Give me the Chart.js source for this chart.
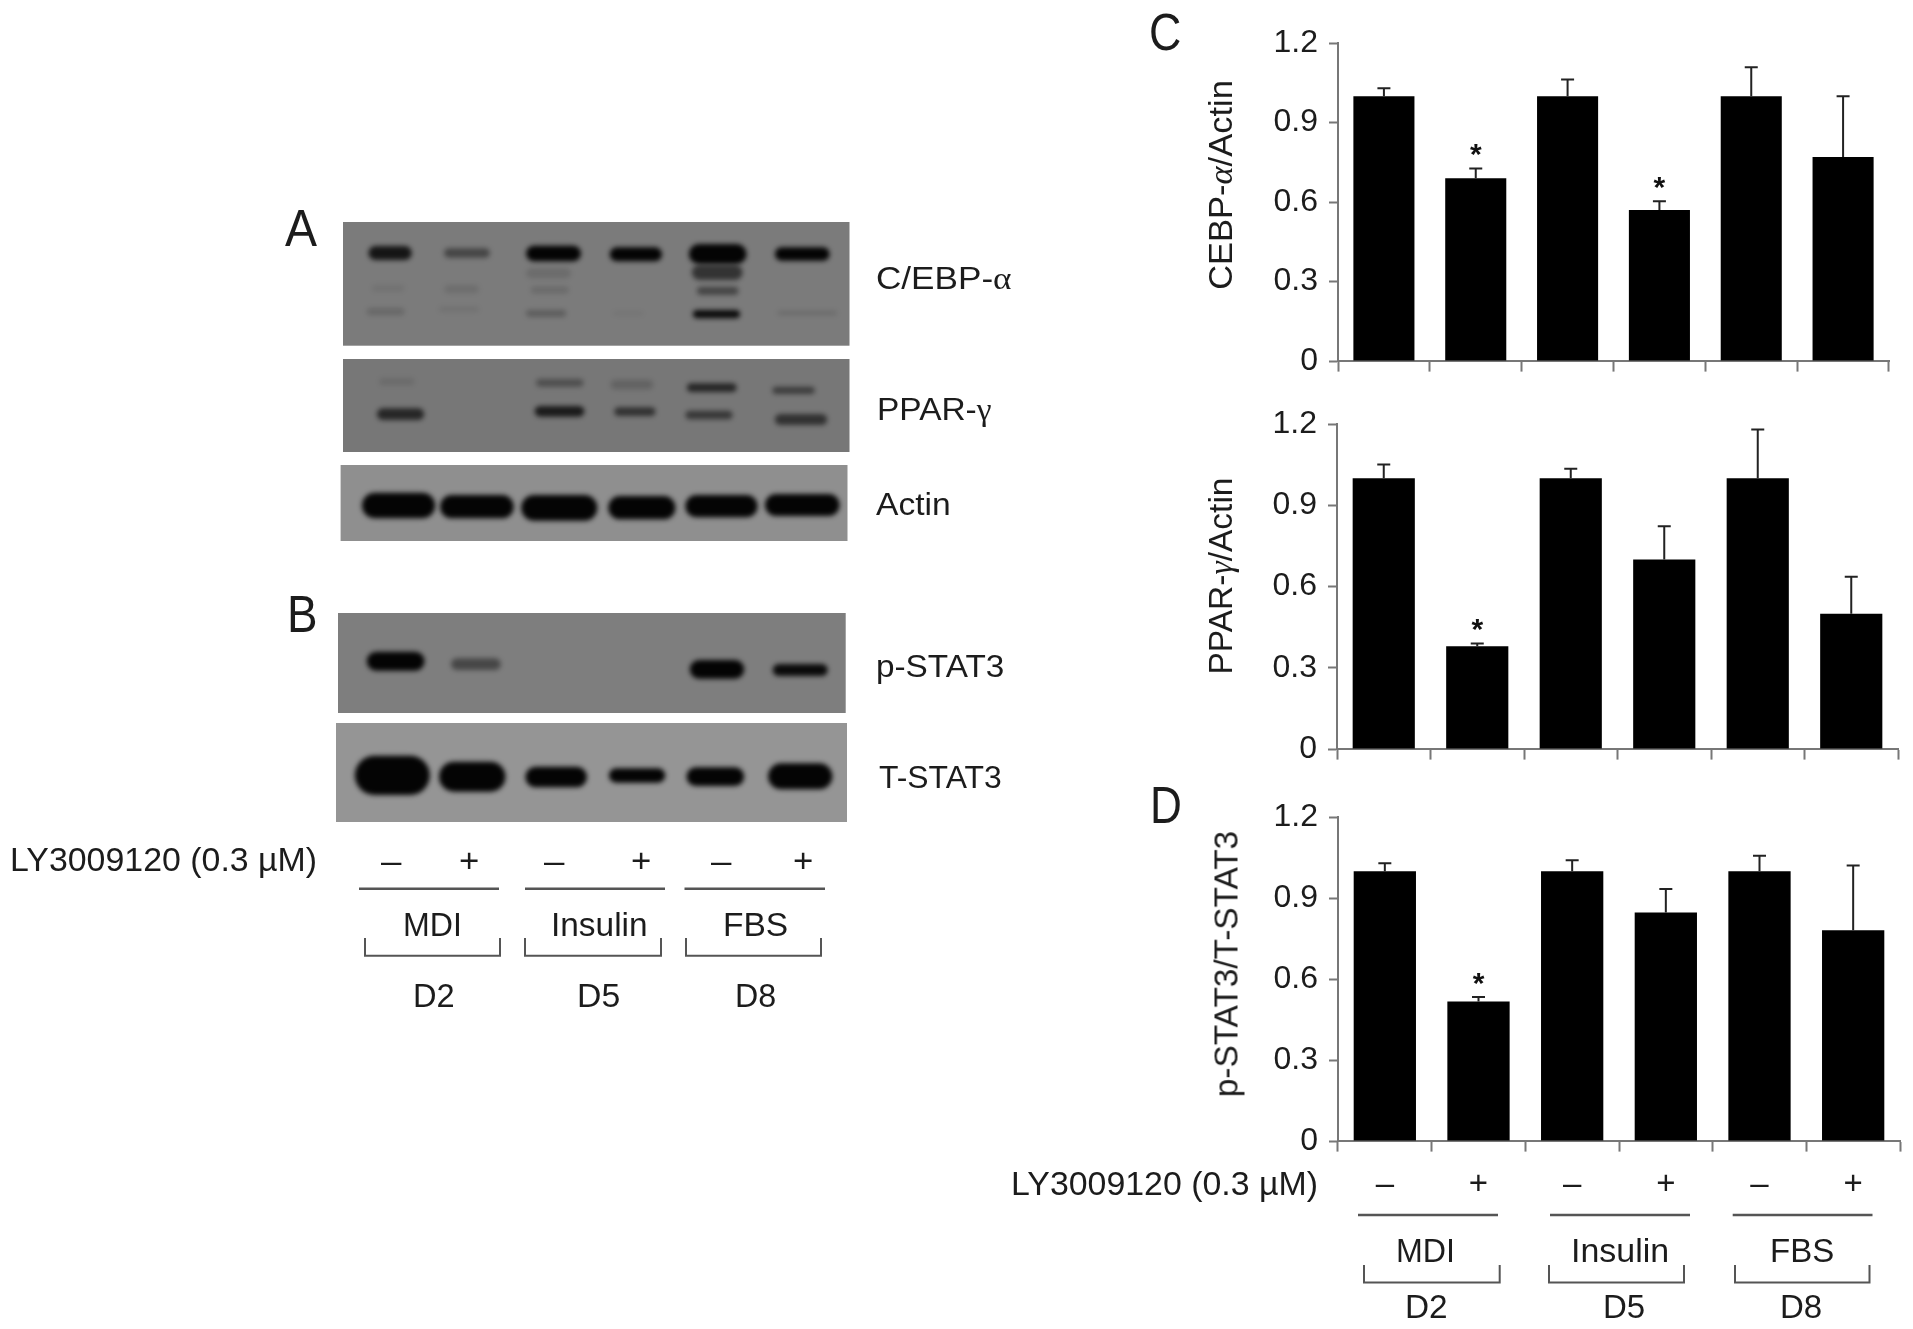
<!DOCTYPE html>
<html><head><meta charset="utf-8">
<script src="https://cdn.jsdelivr.net/npm/chart.js@4"></script>
<style>
html,body{margin:0;padding:0;background:#fff;overflow:hidden}
#stage{position:relative;width:1913px;height:1329px;overflow:hidden;background:#fff}
canvas{position:absolute}
.t{position:absolute;white-space:nowrap;line-height:1;font-family:"Liberation Sans",Arial,sans-serif;color:#1c1c1c}
</style></head><body>
<div id="stage"><canvas id="bg" width="1913" height="1329" style="left:0;top:0"></canvas>
<canvas id="c1"></canvas><canvas id="c2"></canvas><canvas id="c3"></canvas></div>
<script>
// ---- data ----
const treatments = ['–','+','–','+','–','+'];
const cebpValues = [1.0,0.69,1.0,0.57,1.0,0.77];
const cebpErrorTops = [1.03,0.727,1.063,0.603,1.109,1.0];
const cebpStars = [0,1,0,1,0,0];
const pparValues = [1.0,0.38,1.0,0.70,1.0,0.50];
const pparErrorTops = [1.051,0.39,1.035,0.823,1.18,0.636];
const pparStars = [0,1,0,0,0,0];
const stat3Values = [1.0,0.517,1.0,0.847,1.0,0.781];
const stat3ErrorTops = [1.029,0.534,1.04,0.934,1.057,1.021];
const stat3Stars = [0,1,0,0,0,0];
const yTicks = [0,0.3,0.6,0.9,1.2];

// ---- blot bands: [x0,x1,y0,y1,darkness] in crop units ----
const cebpBands=[[218,305,168,210,.85],[370,462,175,203,.45],[535,645,167,214,1],[703,808,172,214,1],[862,978,162,222,1],[1035,1145,172,212,1],[868,970,225,270,.6],[878,962,290,315,.45],[870,965,360,385,.95],[535,625,235,265,.12],[545,620,290,310,.15],[535,615,360,380,.25],[215,290,355,375,.17],[370,440,285,310,.1],[360,440,350,365,.08],[710,770,365,375,.07],[1040,1160,362,376,.12],[225,290,285,305,.07]];
const pparBands=[[240,310,565,585,.1],[235,330,655,690,.7],[555,650,567,590,.35],[552,652,648,680,.8],[705,790,570,598,.18],[712,795,652,678,.6],[858,958,580,606,.7],[855,950,662,688,.55],[1030,1115,590,612,.5],[1035,1140,672,705,.6]];
const actinBands=[[205,352,908,985,1],[362,510,915,985,1],[525,678,915,992,1],[700,835,918,988,1],[855,1000,915,982,1],[1015,1165,912,978,1]];
const pstatBands=[[553,640,215,272,1],[680,755,235,270,.45],[1040,1122,240,296,1],[1165,1248,252,288,.95]];
const tstatBands=[[535,648,527,645,1],[662,762,545,635,1],[792,885,560,622,1],[918,1003,565,608,1],[1035,1122,562,618,1],[1158,1255,550,628,1]];

// ---- background: blots, lines, brackets ----
const bg=document.getElementById('bg').getContext('2d');
function panel(x0,y0,x1,y1,gray,bands,sx,ox,oy){
  bg.save();
  bg.fillStyle=gray;bg.fillRect(x0,y0,x1-x0,y1-y0);
  bg.beginPath();bg.rect(x0,y0,x1-x0,y1-y0);bg.clip();
  bg.filter='blur(2.5px)';
  bands.forEach(b=>{
    const X0=ox+b[0]/sx,X1=ox+b[1]/sx,Y0=oy+b[2]/3,Y1=oy+b[3]/3;
    bg.fillStyle='rgba(4,4,4,'+b[4]+')';
    bg.beginPath();bg.roundRect(X0,Y0,X1-X0,Y1-Y0,Math.min(Y1-Y0,X1-X0)/2);bg.fill();
  });
  bg.restore();
}
panel(343,222,849.5,345.7,'#7b7b7b',cebpBands,2.01,260,190);
panel(343,359,849.5,452,'#777777',pparBands,2.01,260,190);
panel(340.6,465,847.5,541,'#8f8f8f',actinBands,2.01,260,190);
panel(338,613,845.7,713,'#7e7e7e',pstatBands,1.5077,0,580);
panel(336,723,847,822,'#959595',tstatBands,1.5077,0,580);
bg.strokeStyle='#555';
function hline(a,b,y){bg.lineWidth=2.5;bg.beginPath();bg.moveTo(a,y);bg.lineTo(b,y);bg.stroke();}
function bracket(a,b,t,e){bg.lineWidth=2;bg.beginPath();bg.moveTo(a,t);bg.lineTo(a,e);bg.lineTo(b,e);bg.lineTo(b,t);bg.stroke();}
hline(359,499,888.7);hline(525,665,888.7);hline(684.5,825,888.7);
bracket(365,500,938,955.7);bracket(525,661,938,955.7);bracket(686,821,938,955.7);
hline(1358,1498,1215);hline(1550,1690,1215);hline(1732.7,1872.5,1215);
bracket(1364,1499.7,1265,1282.5);bracket(1549,1684,1265,1282.5);bracket(1735,1869.5,1265,1282.5);

// ---- text ----
const stage=document.getElementById('stage');
function label(html,x0,x1,cy,size){
  const s=document.createElement('span');s.className='t';s.innerHTML=html;s.style.fontSize=size+'px';
  stage.appendChild(s);
  const k=(x1-x0)/s.offsetWidth;
  s.style.left=x0+'px';s.style.top=(cy-s.offsetHeight/2)+'px';
  s.style.transformOrigin='left center';s.style.transform='scaleX('+k+')';
}
function vlabel(html,cx,y0,y1,size){
  const s=document.createElement('span');s.className='t';s.innerHTML=html;s.style.fontSize=size+'px';
  stage.appendChild(s);
  const k=(y1-y0)/s.offsetWidth;
  s.style.left=cx+'px';s.style.top=((y0+y1)/2)+'px';
  s.style.transform='translate(-50%,-50%) rotate(-90deg) scaleX('+k+')';
}
const SM='<span style="font-family:\'Liberation Serif\'">';
label('A',285,317,228,51);label('B',286.5,317,614,51);label('C',1149,1181.5,32,51);label('D',1150,1182,805,51);
label('C/EBP-'+SM+'α</span>',876,1011,278,32);
label('PPAR-'+SM+'γ</span>',877,992,409,32);
label('Actin',876,950.6,504,32);
label('p-STAT3',875.5,1003.5,666,32);
label('T-STAT3',879,1001.5,776.7,32);
label('LY3009120 (0.3 µM)',10,317,859,33);
[[391,'–'],[469,'+'],[554,'–'],[641,'+'],[721,'–'],[802.5,'+']].forEach(p=>label(p[1],p[0]-10,p[0]+10,860,33));
label('MDI',402.6,462,924,33);label('Insulin',550.5,646.7,924,33);label('FBS',723,788,924,33);
label('D2',412.5,454,995,33);label('D5',577,620,995,33);label('D8',735,776,995,33);
label('LY3009120 (0.3 µM)',1010.5,1317.4,1183.5,33);
label('MDI',1396,1455.5,1250,33);label('Insulin',1570.8,1668.6,1250,33);label('FBS',1770,1834,1250,33);
label('D2',1404.8,1447.3,1306,33);label('D5',1603,1645,1306,33);label('D8',1780,1822,1306,33);
vlabel('CEBP-<i style="font-family:\'Liberation Serif\'">α</i>/Actin',1221,80,290,33);
vlabel('PPAR-<i style="font-family:\'Liberation Serif\'">γ</i>/Actin',1221,477,674,33);
vlabel('p-STAT3/T-STAT3',1226,831,1097,33);

// ---- charts ----
const errorBars={id:'errorBars',afterDatasetsDraw(chart){
  const ctx=chart.ctx,y=chart.scales.y,meta=chart.getDatasetMeta(0),o=chart.options.plugins.errorBars;
  ctx.save();ctx.strokeStyle='#222';ctx.fillStyle='#111';ctx.lineWidth=2;
  meta.data.forEach((bar,i)=>{
    const top=y.getPixelForValue(o.tops[i]);
    ctx.beginPath();ctx.moveTo(bar.x,bar.y);ctx.lineTo(bar.x,top);ctx.moveTo(bar.x-6.5,top);ctx.lineTo(bar.x+6.5,top);ctx.stroke();
    if(o.stars[i]){
      ctx.font='bold 30px "Liberation Sans"';ctx.textAlign='center';ctx.textBaseline='alphabetic';
      ctx.fillText('*',bar.x,top-4);
    }
  });
  ctx.restore();
}};
function makeChart(id,x0,x1,yTop,yBottom,values,tops,stars,showLabels){
  const padL=160,padT=30,below=80;
  const cv=document.getElementById(id);
  cv.width=x1-x0+padL+15;cv.height=yBottom-yTop+padT+below;
  cv.style.left=(x0-padL)+'px';cv.style.top=(yTop-padT)+'px';
  new Chart(cv,{type:'bar',plugins:[errorBars],
    data:{labels:treatments,datasets:[{data:values,backgroundColor:'#000',borderWidth:0,barPercentage:0.665,categoryPercentage:1}]},
    options:{responsive:false,animation:false,
      layout:{padding:{top:padT,right:15,left:0,bottom:0}},
      plugins:{legend:{display:false},tooltip:{enabled:false},errorBars:{tops,stars}},
      scales:{
        x:{offset:true,grid:{offset:true,drawOnChartArea:false,drawTicks:true,tickLength:10.6,tickColor:'#777',tickWidth:2},
           border:{color:'#777',width:2},
           ticks:{display:showLabels,autoSkip:false,maxRotation:0,padding:14,color:'#1c1c1c',font:{family:'"Liberation Sans"',size:33}},
           afterFit(s){s.height=below;}},
        y:{min:0,max:1.2,afterBuildTicks(s){s.ticks=yTicks.map(v=>({value:v}));},
           grid:{drawOnChartArea:false,tickLength:9,tickColor:'#777',tickWidth:2},
           border:{color:'#777',width:2},
           ticks:{padding:11,color:'#1c1c1c',font:{family:'"Liberation Sans"',size:32},callback:v=>v===0?'0':v.toFixed(1)},
           afterFit(s){s.width=padL;}}
      }}});
}
makeChart('c1',1337.5,1889,42.5,360.5,cebpValues,cebpErrorTops,cebpStars,false);
makeChart('c2',1337,1898.5,424,749,pparValues,pparErrorTops,pparStars,false);
makeChart('c3',1337.8,1900,817,1141,stat3Values,stat3ErrorTops,stat3Stars,true);
</script></body></html>
